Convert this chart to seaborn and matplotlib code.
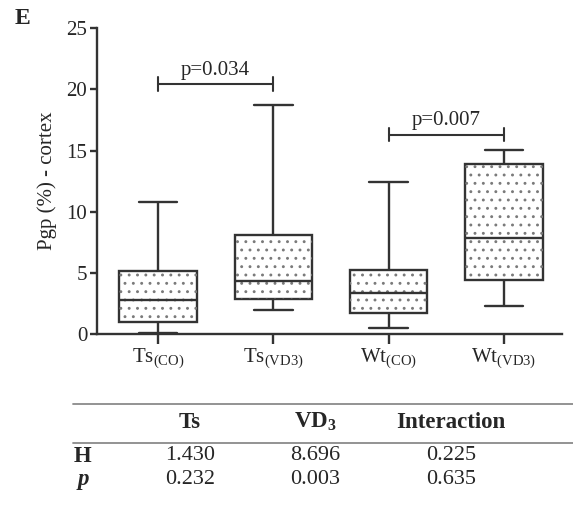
import numpy as np
import pandas as pd
import matplotlib
matplotlib.use("Agg")
import matplotlib.pyplot as plt
from matplotlib.lines import Line2D
from matplotlib.patches import PathPatch
import seaborn as sns

# ---- data (five-number summaries) ----
groups = ["Ts_CO", "Ts_VD3", "Wt_CO", "Wt_VD3"]
tick_labels = [r"Ts$_{\mathrm{(CO)}}$", r"Ts$_{\mathrm{(VD3)}}$",
               r"Wt$_{\mathrm{(CO)}}$", r"Wt$_{\mathrm{(VD3)}}$"]
mins    = [0.1, 2.0, 0.5, 2.3]
q1s     = [0.95, 2.9, 1.73, 4.44]
medians = [2.8, 4.33, 3.33, 7.82]
q3s     = [5.14, 8.12, 5.25, 13.87]
maxs    = [10.8, 18.7, 12.45, 15.03]

brackets = [(0, 1, 20.45, "p=0.034"), (2, 3, 16.3, "p=0.007")]

table_cols = ["Ts", r"VD$_\mathbf{3}$", "Interaction"]
H_vals = ["1.430", "8.696", "0.225"]
p_vals = ["0.232", "0.003", "0.635"]

rows = []
for g, a, b, c, d, e in zip(groups, mins, q1s, medians, q3s, maxs):
    for v in (a, b, c, d, e):
        rows.append({"group": g, "value": v})
df = pd.DataFrame(rows)

sns.set_style("ticks")
plt.rcParams["font.family"] = ["Liberation Serif", "DejaVu Serif"]
plt.rcParams["mathtext.fontset"] = "custom"
plt.rcParams["mathtext.rm"] = "Liberation Serif"
plt.rcParams["mathtext.bf"] = "Liberation Serif:bold"
plt.rcParams["mathtext.it"] = "Liberation Serif:italic"
plt.rcParams["hatch.linewidth"] = 0.9

ink = "#333333"
fig = plt.figure(figsize=(5.73, 5.19), dpi=100)
ax = fig.add_axes([0.1693, 0.3565, 0.8107, 0.589])

sns.boxplot(data=df, x="group", y="value", order=groups, whis=(0, 100),
            width=0.67, color="white", linecolor=ink, linewidth=1.7,
            showfliers=False, ax=ax)
for p in list(ax.patches):
    p.set_zorder(1.8)
    dots = PathPatch(p.get_path(), transform=p.get_transform(),
                     facecolor="none", edgecolor="#7a7a7a", lw=0,
                     hatch="..", zorder=1.9)
    ax.add_patch(dots)

ax.set_xlim(-0.53, 3.5)
ax.set_ylim(0, 25)
ax.set_yticks([0, 5, 10, 15, 20, 25])
ax.set_xticks(range(4))
ax.set_xticklabels(tick_labels)
ax.set_xlabel("")
ax.set_ylabel("Pgp (%) - cortex", fontsize=15, labelpad=7)
for s in ("top", "right"):
    ax.spines[s].set_visible(False)
for s in ("left", "bottom"):
    ax.spines[s].set_color(ink)
    ax.spines[s].set_linewidth(1.7)
ax.tick_params(axis="y", length=5, width=1.7, color=ink, labelsize=15, pad=2)
ax.tick_params(axis="x", length=7, width=1.7, color=ink, labelsize=15, pad=2)

for i, j, y, txt in brackets:
    ax.plot([i, j], [y, y], color=ink, lw=1.5)
    for xx in (i, j):
        ax.plot([xx, xx], [y - 0.55, y + 0.55], color=ink, lw=1.5)
    ax.text((i + j) / 2, y + 0.35, txt, ha="center", va="bottom", fontsize=15)

fig.text(15 / 573, 1 - 19 / 519, "E", fontsize=17, fontweight="bold",
         ha="left", va="center")

# ---- table ----
def fx(px):
    return px / 573

def fy(py):
    return 1 - py / 519

fig.add_artist(Line2D([fx(73), fx(573)], [fy(403.5), fy(403.5)],
                      color="#8a8a8a", lw=1.3))
fig.add_artist(Line2D([fx(73), fx(573)], [fy(442.5), fy(442.5)],
                      color="#8a8a8a", lw=1.3))
col_x = [190, 315, 451]
for x, t in zip(col_x, table_cols):
    fig.text(fx(x), fy(422), t, ha="center", va="center", fontsize=16.5,
             fontweight="bold")
fig.text(fx(83), fy(456), "H", ha="center", va="center", fontsize=16.5,
         fontweight="bold")
fig.text(fx(83), fy(479), "p", ha="center", va="center", fontsize=16.5,
         fontweight="bold", fontstyle="italic")
for x, h, p in zip(col_x, H_vals, p_vals):
    fig.text(fx(x), fy(456), h, ha="center", va="center", fontsize=16)
    fig.text(fx(x), fy(479), p, ha="center", va="center", fontsize=16)

fig.savefig("out.png", dpi=100)
